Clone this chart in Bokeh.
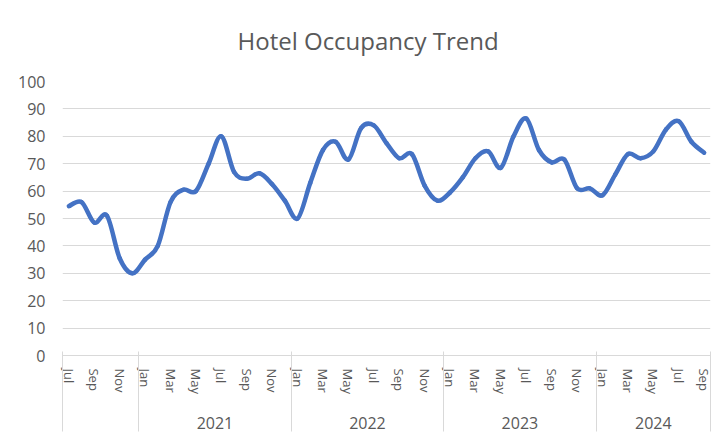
from bokeh.plotting import figure
from bokeh.models import Range1d, FixedTicker, LinearAxis
from bokeh.embed import file_html
from bokeh.resources import INLINE

# ---- data ----
month_names = ["Jan", "Feb", "Mar", "Apr", "May", "Jun",
               "Jul", "Aug", "Sep", "Oct", "Nov", "Dec"]
months = month_names[6:] + month_names * 3 + month_names[:9]
years = ["2020"] * 6 + ["2021"] * 12 + ["2022"] * 12 + ["2023"] * 12 + ["2024"] * 9
occupancy = [
    54.5, 56, 48.5, 51, 35.5, 30,                                   # 2020 Jul-Dec
    35, 40, 56, 60.5, 60, 70, 80, 67, 64.5, 66.5, 62.5, 56.5,       # 2021
    50, 63, 75, 78, 71.5, 83, 84, 77.5, 72, 73.5, 62, 56.5,         # 2022
    59.5, 65, 72, 74.5, 68.5, 80, 86.5, 75, 70.5, 71.5, 61, 61,     # 2023
    58.5, 66, 73.5, 72, 74.5, 82.5, 85.5, 78, 74,                   # 2024 Jan-Sep
]
labeled_years = ["2021", "2022", "2023", "2024"]
y_ticks = [0, 10, 20, 30, 40, 50, 60, 70, 80, 90, 100]

# ---- derived positions ----
n = len(occupancy)
xs = list(range(n))

# smooth line: cubic Bezier segments (Catmull-Rom style control points)
x0, y0, x1, y1, cx0, cy0, cx1, cy1 = [], [], [], [], [], [], [], []
for i in range(n - 1):
    im1 = max(i - 1, 0)
    ip2 = min(i + 2, n - 1)
    x0.append(xs[i]); y0.append(occupancy[i])
    x1.append(xs[i + 1]); y1.append(occupancy[i + 1])
    cx0.append(xs[i] + (xs[i + 1] - xs[im1]) / 6)
    cy0.append(occupancy[i] + (occupancy[i + 1] - occupancy[im1]) / 6)
    cx1.append(xs[i + 1] - (xs[ip2] - xs[i]) / 6)
    cy1.append(occupancy[i + 1] - (occupancy[ip2] - occupancy[i]) / 6)

month_ticks = [i for i in xs if i % 2 == 0]
month_overrides = {i: months[i] for i in month_ticks}

boundaries = [-0.5] + [i - 0.5 for i in range(1, n) if years[i] != years[i - 1]] + [n - 0.5]
year_centers = []
for yr in labeled_years:
    idx = [i for i in xs if years[i] == yr]
    year_centers.append((idx[0] + idx[-1]) / 2)
year_overrides = {c: yr for c, yr in zip(year_centers, labeled_years)}

TEXT = "#595959"
GRID = "#d9d9d9"
FONT = "Open Sans"

p = figure(width=717, height=436,
           x_range=Range1d(-0.5, n - 0.5), y_range=Range1d(0, 100),
           output_backend="svg", toolbar_location=None,
           x_axis_location=None,
           min_border_left=62, min_border_right=7,
           min_border_top=81, min_border_bottom=81)
p.outline_line_color = None
p.background_fill_color = "white"
p.border_fill_color = "white"

# title
p.title.text = "Hotel Occupancy Trend"
p.title.text_font = FONT
p.title.text_font_size = "24px"
p.title.text_font_style = "normal"
p.title.text_color = TEXT
p.title.align = "left"
p.title.offset = 175
p.title.vertical_align = "top"
p.title.standoff = 46

# y axis
p.yaxis.ticker = FixedTicker(ticks=y_ticks)
p.yaxis.axis_line_color = None
p.yaxis.major_tick_line_color = None
p.yaxis.minor_tick_line_color = None
p.yaxis.major_label_text_font = FONT
p.yaxis.major_label_text_font_size = "16px"
p.yaxis.major_label_text_color = TEXT
p.yaxis.major_label_standoff = 11

p.xgrid.grid_line_color = None
p.ygrid.ticker = FixedTicker(ticks=y_ticks)
p.ygrid.grid_line_color = GRID
p.ygrid.grid_line_width = 1

# month axis
ax_m = LinearAxis(ticker=FixedTicker(ticks=month_ticks, minor_ticks=[]))
ax_m.major_label_overrides = month_overrides
ax_m.major_label_orientation = "vertical"
ax_m.major_label_text_font = FONT
ax_m.major_label_text_font_size = "13px"
ax_m.major_label_text_color = TEXT
ax_m.major_label_standoff = 13
ax_m.major_tick_line_color = None
ax_m.major_tick_in = 0
ax_m.major_tick_out = 0
ax_m.minor_tick_line_color = None
ax_m.axis_line_color = GRID
p.add_layout(ax_m, "below")

# year axis
ax_y = LinearAxis(ticker=FixedTicker(ticks=year_centers, minor_ticks=[]))
ax_y.major_label_overrides = year_overrides
ax_y.major_label_text_font = FONT
ax_y.major_label_text_font_size = "16px"
ax_y.major_label_text_color = TEXT
ax_y.major_label_standoff = 20
ax_y.major_tick_line_color = None
ax_y.major_tick_in = 0
ax_y.major_tick_out = 0
ax_y.minor_tick_line_color = None
ax_y.axis_line_color = None
p.add_layout(ax_y, "below")

# group separators (ticks reaching up to the month axis line)
ax_s = LinearAxis(ticker=FixedTicker(ticks=[], minor_ticks=boundaries))
ax_s.major_label_text_font_size = "0px"
ax_s.major_tick_line_color = None
ax_s.major_tick_in = 0
ax_s.major_tick_out = 0
ax_s.minor_tick_in = 80
ax_s.minor_tick_out = 0
ax_s.minor_tick_line_color = GRID
ax_s.minor_tick_line_width = 1
ax_s.axis_line_color = None
p.add_layout(ax_s, "below")

p.bezier(x0=x0, y0=y0, x1=x1, y1=y1, cx0=cx0, cy0=cy0, cx1=cx1, cy1=cy1,
         line_color="#4472C4", line_width=4.5, line_cap="round")

open("out.html", "w").write(file_html(p, INLINE))
